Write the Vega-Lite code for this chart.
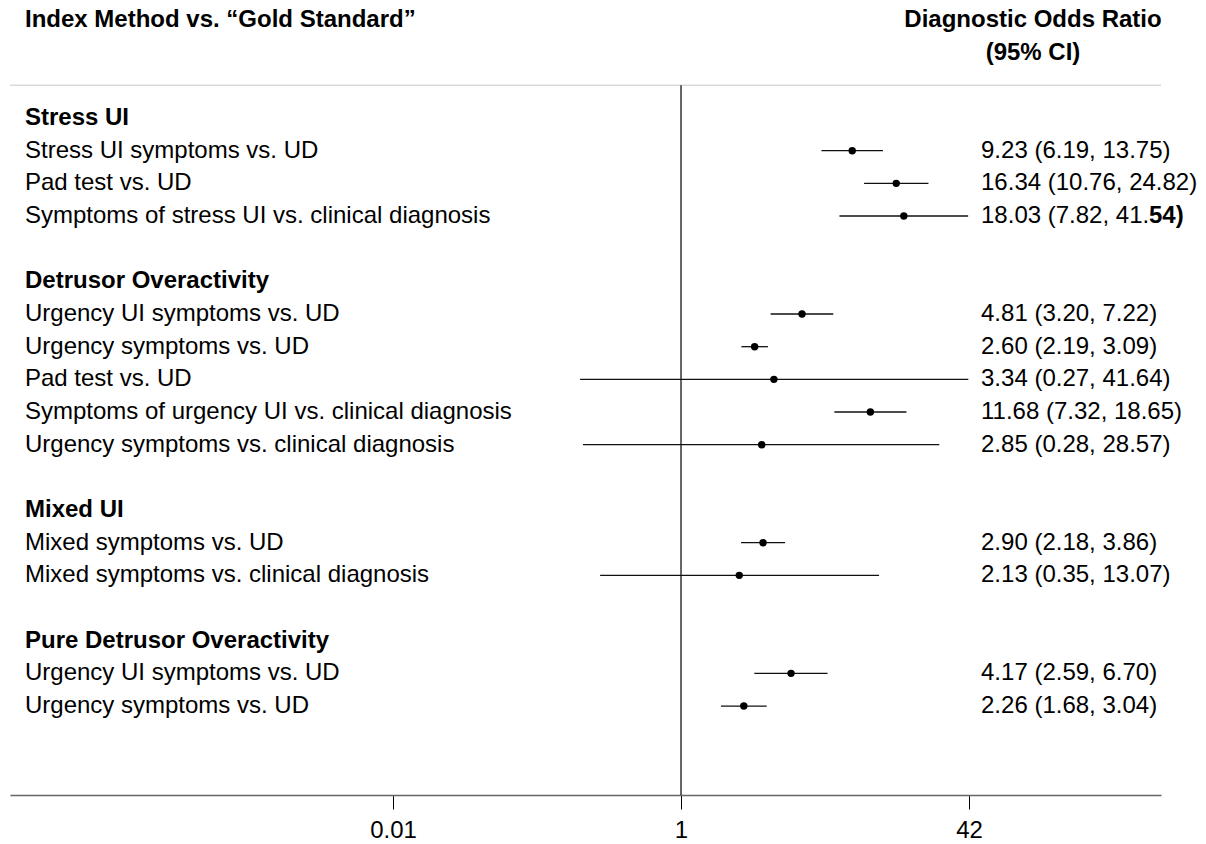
{
  "$schema": "https://vega.github.io/schema/vega-lite/v6.json",
  "width": 1151,
  "height": 795,
  "autosize": {"type": "none"},
  "padding": {"left": 10, "top": 0, "right": 45, "bottom": 49},
  "background": "white",
  "config": {
    "view": {"stroke": null},
    "text": {"font": "Liberation Sans", "fontSize": 24, "color": "#000", "baseline": "middle"}
  },
  "data": {
    "values": [
      {"row": 0, "label": "Stress UI", "header": true},
      {"row": 1, "label": "Stress UI symptoms vs. UD", "or": 9.23, "lo": 6.19, "hi": 13.75, "ci": "9.23 (6.19, 13.75)"},
      {"row": 2, "label": "Pad test vs. UD", "or": 16.34, "lo": 10.76, "hi": 24.82, "ci": "16.34 (10.76, 24.82)"},
      {"row": 3, "label": "Symptoms of stress UI vs. clinical diagnosis", "or": 18.03, "lo": 7.82, "hi": 41.54, "ci": "18.03 (7.82, 41.", "ciTail": "54)"},
      {"row": 5, "label": "Detrusor Overactivity", "header": true},
      {"row": 6, "label": "Urgency UI symptoms vs. UD", "or": 4.81, "lo": 3.20, "hi": 7.22, "ci": "4.81 (3.20, 7.22)"},
      {"row": 7, "label": "Urgency symptoms vs. UD", "or": 2.60, "lo": 2.19, "hi": 3.09, "ci": "2.60 (2.19, 3.09)"},
      {"row": 8, "label": "Pad test vs. UD", "or": 3.34, "lo": 0.27, "hi": 41.64, "ci": "3.34 (0.27, 41.64)"},
      {"row": 9, "label": "Symptoms of urgency UI vs. clinical diagnosis", "or": 11.68, "lo": 7.32, "hi": 18.65, "ci": "11.68 (7.32, 18.65)"},
      {"row": 10, "label": "Urgency symptoms vs. clinical diagnosis", "or": 2.85, "lo": 0.28, "hi": 28.57, "ci": "2.85 (0.28, 28.57)"},
      {"row": 12, "label": "Mixed UI", "header": true},
      {"row": 13, "label": "Mixed symptoms vs. UD", "or": 2.90, "lo": 2.18, "hi": 3.86, "ci": "2.90 (2.18, 3.86)"},
      {"row": 14, "label": "Mixed symptoms vs. clinical diagnosis", "or": 2.13, "lo": 0.35, "hi": 13.07, "ci": "2.13 (0.35, 13.07)"},
      {"row": 16, "label": "Pure Detrusor Overactivity", "header": true},
      {"row": 17, "label": "Urgency UI symptoms vs. UD", "or": 4.17, "lo": 2.59, "hi": 6.70, "ci": "4.17 (2.59, 6.70)"},
      {"row": 18, "label": "Urgency symptoms vs. UD", "or": 2.26, "lo": 1.68, "hi": 3.04, "ci": "2.26 (1.68, 3.04)"}
    ]
  },
  "resolve": {"scale": {"x": "shared", "y": "shared"}},
  "layer": [
    {
      "transform": [{"filter": "datum.row === 0"}],
      "mark": {"type": "rule", "color": "#d9d9d9", "strokeWidth": 1.5},
      "encoding": {
        "y": {
          "datum": -1,
          "type": "quantitative",
          "scale": {"domain": [-3.612, 20.723], "reverse": true, "nice": false, "zero": false},
          "axis": null
        }
      }
    },
    {
      "transform": [{"filter": "datum.row === 0"}],
      "mark": {"type": "rule", "color": "#000", "strokeWidth": 1.2},
      "encoding": {
        "x": {
          "datum": 1,
          "type": "quantitative",
          "scale": {"type": "log", "domain": [0.0001651, 507.7], "nice": false},
          "axis": {
            "values": [0.0238095, 1, 42],
            "labelExpr": "datum.value < 0.1 ? '0.01' : (datum.value < 2 ? '1' : '42')",
            "title": null,
            "grid": false,
            "domainColor": "#666",
            "domainWidth": 1.5,
            "tickColor": "#000",
            "tickSize": 14,
            "tickWidth": 1,
            "labelFont": "Liberation Sans",
            "labelFontSize": 24,
            "labelColor": "#000",
            "labelPadding": 9,
            "labelFlush": false,
            "labelOverlap": false
          }
        },
        "y": {"datum": -1, "type": "quantitative"},
        "y2": {"datum": 20.723}
      }
    },
    {
      "transform": [{"filter": "isValid(datum.lo)"}],
      "mark": {"type": "rule", "color": "#111", "strokeWidth": 1.3},
      "encoding": {
        "x": {"field": "lo", "type": "quantitative"},
        "x2": {"field": "hi"},
        "y": {"field": "row", "type": "quantitative"}
      }
    },
    {
      "transform": [{"filter": "isValid(datum.or)"}],
      "mark": {"type": "point", "filled": true, "color": "#000", "opacity": 1, "size": 55},
      "encoding": {
        "x": {"field": "or", "type": "quantitative"},
        "y": {"field": "row", "type": "quantitative"}
      }
    },
    {
      "transform": [{"filter": "!datum.header"}],
      "mark": {"type": "text", "align": "left"},
      "encoding": {
        "x": {"datum": 0.0002005, "type": "quantitative"},
        "y": {"field": "row", "type": "quantitative"},
        "text": {"field": "label"}
      }
    },
    {
      "transform": [{"filter": "datum.header === true"}],
      "mark": {"type": "text", "align": "left", "fontWeight": "bold"},
      "encoding": {
        "x": {"datum": 0.0002005, "type": "quantitative"},
        "y": {"field": "row", "type": "quantitative"},
        "text": {"field": "label"}
      }
    },
    {
      "transform": [{"filter": "isValid(datum.ci)"}],
      "mark": {"type": "text", "align": "left"},
      "encoding": {
        "x": {"datum": 49.1, "type": "quantitative"},
        "y": {"field": "row", "type": "quantitative"},
        "text": {"field": "ci"}
      }
    },
    {
      "transform": [{"filter": "isValid(datum.ciTail)"}],
      "mark": {"type": "text", "align": "left", "fontWeight": "bold", "dx": 168},
      "encoding": {
        "x": {"datum": 49.1, "type": "quantitative"},
        "y": {"field": "row", "type": "quantitative"},
        "text": {"field": "ciTail"}
      }
    },
    {
      "transform": [{"filter": "datum.row === 0"}],
      "mark": {"type": "text", "align": "left", "fontWeight": "bold", "text": "Index Method vs. “Gold Standard”"},
      "encoding": {
        "x": {"datum": 0.0002005, "type": "quantitative"},
        "y": {"datum": -3, "type": "quantitative"}
      }
    },
    {
      "transform": [{"filter": "datum.row === 0"}],
      "mark": {"type": "text", "align": "center", "fontWeight": "bold", "text": "Diagnostic Odds Ratio"},
      "encoding": {
        "x": {"datum": 96.4, "type": "quantitative"},
        "y": {"datum": -3, "type": "quantitative"}
      }
    },
    {
      "transform": [{"filter": "datum.row === 0"}],
      "mark": {"type": "text", "align": "center", "fontWeight": "bold", "text": "(95% CI)"},
      "encoding": {
        "x": {"datum": 96.4, "type": "quantitative"},
        "y": {"datum": -2, "type": "quantitative"}
      }
    }
  ]
}
